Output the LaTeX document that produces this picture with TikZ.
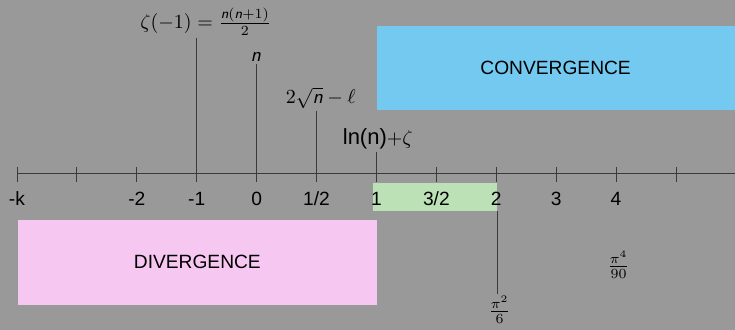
\documentclass[tikz,border=0pt]{standalone}
\usepackage{amsmath}
\usepackage{fontspec}
\newfontfamily\arialf{Liberation Sans}
\usetikzlibrary{positioning}
\definecolor{fondoGris}{HTML}{999999}
\definecolor{lineaGris}{HTML}{3A3A3A}
\definecolor{azulConv}{HTML}{73C9EF}
\definecolor{rosaDiv}{HTML}{F6C8F1}
\definecolor{verdeInt}{HTML}{BDE1B7}
\newcommand{\nvar}{\textsf{\itshape n}}

\begin{document}
\begin{tikzpicture}[x=0.5pt, y=-0.5pt,
        zona/.style={inner sep=0pt, font=\arialf\fontsize{9.6}{11}\selectfont},
        eje/.style={draw=lineaGris, line width=0.5pt},
        marca/.style={draw=lineaGris, line width=0.45pt},
        num/.style={inner sep=0pt, font=\arialf\fontsize{9.6}{11}\selectfont},
        pin/.style={draw=lineaGris, line width=0.45pt},
        val/.style={inner sep=1pt, font=\fontsize{10}{12}\selectfont}
    ]
        \fill[fondoGris] (0,0) rectangle (735,330);

        \node[zona, fill=azulConv, minimum width=179pt, minimum height=42pt] (conv) at (556,68) {CONVERGENCE};
        \node[zona, fill=rosaDiv, minimum width=179.5pt, minimum height=42.5pt] (div) at (197.5,262.5) {DIVERGENCE};
        \node[fill=verdeInt, inner sep=0pt, minimum width=62pt, minimum height=14pt] (verde) at (435,197) {};

        \coordinate (ax0) at (17,174);
        \coordinate (ax1) at (735,174);
        \draw[eje] (ax0) -- (ax1);
        \foreach \i in {0,...,11} {
            \coordinate (t\i) at (17+59.95*\i,167);
            \draw[marca] (t\i) -- ++(0,15);
        }
        \foreach \i/\t in {0/{-k},2/{-2},3/{-1},4/{0},5/{1/2},6/{1},7/{3/2},8/{2},9/{3},10/{4}}
            \node[num] (n\i) at (17+59.95*\i,199) {\t};

        \node[val] (lz) at (206,22) {$\zeta(-1)=\frac{\nvar(\nvar+1)}{2}$};
        \node[val] (ln) at (256,57) {\nvar};
        \node[val] (lsq) at (321,98) {$2\sqrt{\nvar}-\ell$};
        \node[val] (llog) at (378,139) {{\arialf\fontsize{11}{12}\selectfont ln(n)}$+\zeta$};
        \node[val] (lpi2) at (500,310) {$\frac{\pi^2}{6}$};
        \node[val] (lpi4) at (619,265) {$\frac{\pi^4}{90}$};

        \draw[pin] (lz.south -| t3) -- (t3);
        \draw[pin] (ln.south -| t4) -- (t4);
        \draw[pin] (lsq.south -| t5) -- (t5);
        \draw[pin] (llog.south -| t6) -- (t6);
        \draw[pin] (verde.south east) -- (verde.south east |- lpi2.north);
    \end{tikzpicture}
\end{document}
